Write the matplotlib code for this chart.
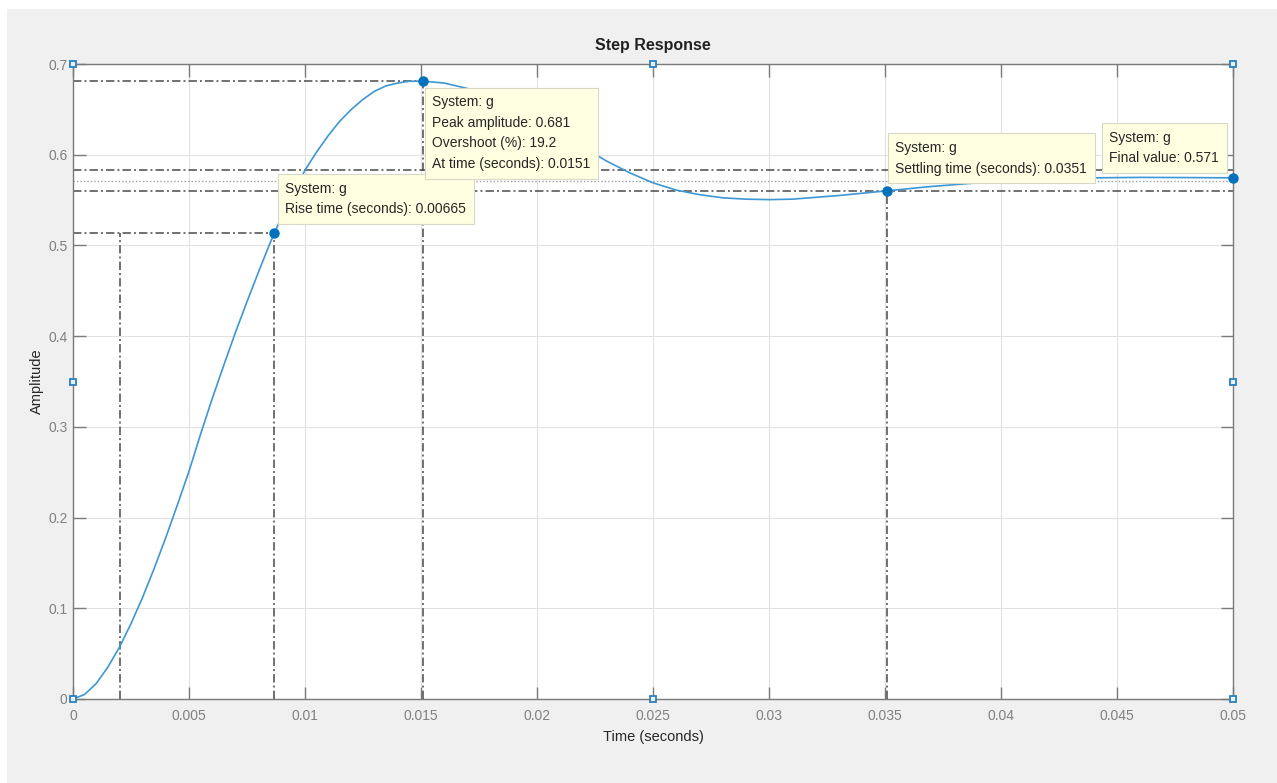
import numpy as np
import matplotlib.pyplot as plt
from matplotlib.patches import Rectangle

# step response
t = [0.0, 0.0005, 0.001, 0.0015, 0.002, 0.0025, 0.003, 0.0035, 0.004, 0.0045,
     0.005, 0.0055, 0.006, 0.0065, 0.007, 0.0075, 0.008, 0.0085, 0.009, 0.0095,
     0.010, 0.0105, 0.011, 0.0115, 0.012, 0.0125, 0.013, 0.0135, 0.014, 0.0145,
     0.0151, 0.016, 0.017, 0.018, 0.019, 0.020, 0.021, 0.022, 0.023, 0.024,
     0.025, 0.026, 0.027, 0.028, 0.029, 0.030, 0.031, 0.032, 0.033, 0.034,
     0.035, 0.036, 0.037, 0.038, 0.039, 0.040, 0.042, 0.044, 0.046, 0.048, 0.050]
amp = [0.0, 0.005, 0.017, 0.035, 0.057, 0.083, 0.112, 0.144, 0.178, 0.214,
       0.251, 0.292, 0.331, 0.368, 0.404, 0.438, 0.471, 0.503, 0.532, 0.558,
       0.583, 0.603, 0.621, 0.637, 0.650, 0.661, 0.670, 0.676, 0.679, 0.681,
       0.681, 0.679, 0.673, 0.664, 0.653, 0.639, 0.624, 0.608, 0.593, 0.580,
       0.569, 0.561, 0.556, 0.5525, 0.551, 0.5505, 0.551, 0.553, 0.555, 0.5575,
       0.560, 0.5625, 0.565, 0.567, 0.569, 0.571, 0.573, 0.5745, 0.575, 0.5748, 0.5745]

# characteristics
rise_start = 0.00202
rise_end = 0.00867
rise_amp = 0.514
peak_time = 0.0151
peak_amp = 0.681
settle_time = 0.0351
settle_amp = 0.560
settle_hi = 0.583
settle_lo = 0.560
final_value = 0.571
end_amp = 0.5745

rise_text = 'System: g\nRise time (seconds): 0.00665'
peak_text = 'System: g\nPeak amplitude: 0.681\nOvershoot (%): 19.2\nAt time (seconds): 0.0151'
settle_text = 'System: g\nSettling time (seconds): 0.0351'
final_text = 'System: g\nFinal value: 0.571'

x_lim = [0, 0.05]
y_lim = [0, 0.7]
x_ticks = [0, 0.005, 0.01, 0.015, 0.02, 0.025, 0.03, 0.035, 0.04, 0.045, 0.05]
x_labels = ['0', '0.005', '0.01', '0.015', '0.02', '0.025', '0.03', '0.035', '0.04', '0.045', '0.05']
y_ticks = [0, 0.1, 0.2, 0.3, 0.4, 0.5, 0.6, 0.7]
y_labels = ['0', '0.1', '0.2', '0.3', '0.4', '0.5', '0.6', '0.7']

plt.rcParams['font.family'] = ['Liberation Sans', 'DejaVu Sans']

fig = plt.figure(figsize=(12.77, 7.83), dpi=100)
fig.patch.set_facecolor('white')
# grey window behind the axes
fig.patches.append(Rectangle((7 / 1277, 0), 1, 1 - 9 / 783, transform=fig.transFigure,
                             facecolor='#f0f0f0', edgecolor='none', zorder=-10))
ax = fig.add_axes([73 / 1277, 1 - 699 / 783, 1160 / 1277, 635 / 783])
ax.set_facecolor('white')

dashdot = (0, (5.5, 2.0, 1.3, 2.0))
dc = '#4a4a4a'
dw = 1.1

# characteristic guide lines
ax.plot([0, peak_time], [peak_amp, peak_amp], color=dc, lw=dw, ls=dashdot, zorder=2)
ax.plot([peak_time, peak_time], [0, peak_amp], color=dc, lw=dw, ls=dashdot, zorder=2)
ax.plot([0, rise_end], [rise_amp, rise_amp], color=dc, lw=dw, ls=dashdot, zorder=2)
ax.plot([rise_start, rise_start], [0, rise_amp], color=dc, lw=dw, ls=dashdot, zorder=2)
ax.plot([rise_end, rise_end], [0, rise_amp], color=dc, lw=dw, ls=dashdot, zorder=2)
ax.plot(x_lim, [settle_hi, settle_hi], color=dc, lw=dw, ls=dashdot, zorder=2)
ax.plot(x_lim, [settle_lo, settle_lo], color=dc, lw=dw, ls=dashdot, zorder=2)
ax.plot([settle_time, settle_time], [0, settle_amp], color=dc, lw=dw, ls=dashdot, zorder=2)
ax.plot(x_lim, [final_value, final_value], color='#a0a0a0', lw=1, ls=(0, (1, 1.5)), zorder=2)

# response
ax.plot(t, amp, color='#3d97d3', lw=1.2, zorder=3)

# data tip markers
ax.plot([rise_end, peak_time, settle_time, x_lim[1]], [rise_amp, peak_amp, settle_amp, end_amp],
        'o', color='#0072BD', ms=6.5, zorder=6, clip_on=False)

# selection handles
hx = [x_lim[0], x_lim[0], x_lim[0], sum(x_lim) / 2, x_lim[1], x_lim[1], x_lim[1], sum(x_lim) / 2]
hy = [y_lim[0], sum(y_lim) / 2, y_lim[1], y_lim[1], y_lim[1], sum(y_lim) / 2, y_lim[0], y_lim[0]]
ax.plot(hx, hy, 's', ms=5, mfc='#e8f2fb', mec='#2a7fc0', mew=1.3, zorder=7, clip_on=False)

# data tips
tip = dict(boxstyle='square,pad=0.55', fc='#ffffe1', ec='#d8d8c8', lw=0.8)
kw = dict(textcoords='offset pixels', fontsize=10, color='#262626', linespacing=1.6,
          va='top', multialignment='left', bbox=tip, zorder=8)
ax.annotate(rise_text, (rise_end, rise_amp), xytext=(11, 51), ha='left', **kw)
ax.annotate(peak_text, (peak_time, peak_amp), xytext=(9, -14), ha='left', **kw)
ax.annotate(settle_text, (settle_time, settle_amp), xytext=(8, 50), ha='left', **kw)
ax.annotate(final_text, (x_lim[1], end_amp), xytext=(-14, 47), ha='right', **kw)

ax.set_xlim(x_lim)
ax.set_ylim(y_lim)
ax.set_xticks(x_ticks)
ax.set_xticklabels(x_labels)
ax.set_yticks(y_ticks)
ax.set_yticklabels(y_labels)
ax.tick_params(direction='in', length=9, width=1, color='#7a7a7a', labelcolor='#808080',
               labelsize=10, top=True, right=True)
ax.tick_params(axis='x', pad=7)
ax.tick_params(axis='y', pad=4)
for s in ax.spines.values():
    s.set_color('#7a7a7a')
    s.set_linewidth(1)
ax.grid(True, color='#e2e2e2', lw=0.8)
ax.set_axisbelow(True)

ax.set_title('Step Response', fontsize=11.5, fontweight='bold', color='#222222', pad=10)
ax.set_xlabel('Time (seconds)', fontsize=10.5, color='#262626', labelpad=5)
ax.set_ylabel('Amplitude', fontsize=10.5, color='#262626', labelpad=3)

plt.savefig('out.png', dpi=100)
plt.close()
